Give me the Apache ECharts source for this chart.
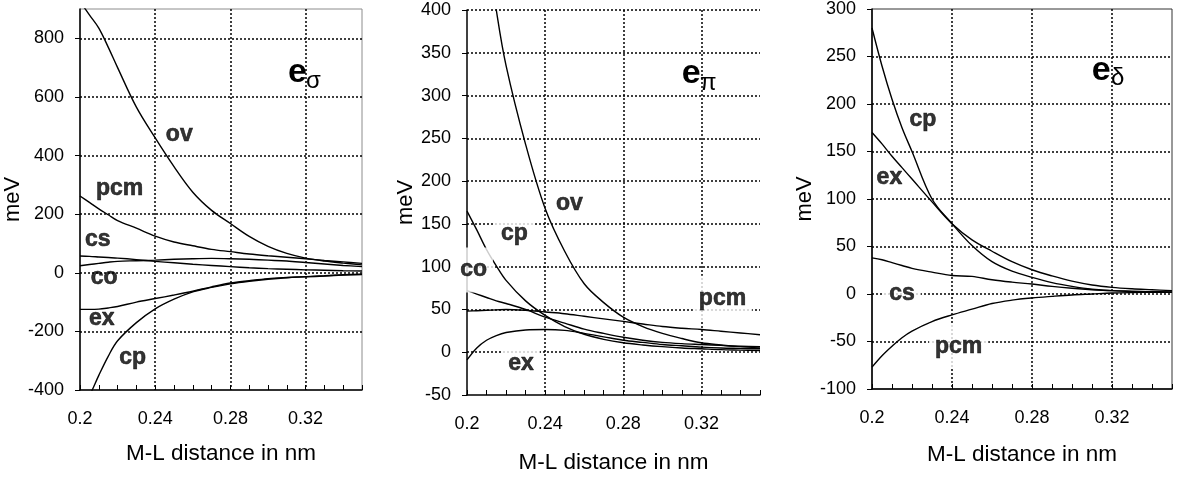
<!DOCTYPE html>
<html><head><meta charset="utf-8">
<script src="https://cdn.jsdelivr.net/npm/echarts@6/dist/echarts.min.js"></script>
<style>html,body{margin:0;padding:0;background:#fff}#c{width:1181px;height:479px}</style>
</head><body><div id="c"></div>
<script>
// ---- data ----
const distance = [0.20,0.205,0.21,0.215,0.22,0.23,0.24,0.25,0.26,0.27,0.28,0.29,0.30,0.31,0.32,0.33,0.34,0.35];
const xTickValues = [0.2,0.24,0.28,0.32];
const xTickLabels = ['0.2','0.24','0.28','0.32'];

// e sigma
const sigmaOv  = [925,880,835,770,700,565,460,362,275,213,168,124,90,66,50,40,33,27];
const sigmaPcm = [262,240,218,198,178,152,125,105,92,80,72,64,58,53,48,42,37,32];
const sigmaCs  = [57,56,54,52,50,45,39,34,29,25,21,17,14,12,10,8.5,7,6];
const sigmaCo  = [24,28,32,36,39,41,43,46,48,49,48,46,43,40,35,30,25,21];
const sigmaEx  = [-125,-125,-124,-120,-115,-100,-88,-76,-63,-48,-35,-27,-20,-16,-13,-10,-7,-5];
const sigmaCp  = [-475,-420,-350,-285,-232,-170,-123,-90,-65,-50,-38,-29,-22,-17,-14,-11,-8,-6];
const sigmaYTicks = [-400,-200,0,200,400,600,800];
const sigmaLabelNames = ['ov','pcm','cs','co','ex','cp'];
const sigmaLabelX = [0.2528,0.2211,0.2094,0.2128,0.2116,0.228];
const sigmaLabelY = [470,286,113,-18,-157,-288];

// e pi
const piOv  = [640,560,480,400,335,243,168,118,80,58,41,30,22,16,11,8.5,6.5,5];
const piCp  = [165,143,120,101,84,60,43,30,21,15,11,8.5,6.5,5,4,3,2.5,2];
const piCo  = [72,68,64,60,57,50,41,34,27,22,17.5,14,11.5,10,9,8,7,6.5];
const piPcm = [48,48.5,49,49.5,50,49,47,45,42,39,36,33,30,28,26.5,24.5,22.5,20.5];
const piEx  = [-9,5,14,19.5,23,26,26.5,25.5,22,18,14,11.5,9,7.5,6,5,4.5,4];
const piYTicks = [-50,0,50,100,150,200,250,300,350,400];
const piLabelNames = ['ov','cp','co','pcm','ex'];
const piLabelX = [0.2524,0.2243,0.2034,0.3308,0.2277];
const piLabelY = [174,138,96,63,-13];

// e delta
const deltaCp  = [280,240,205,175,150,100,74,51,34,24,17.5,12,8,5,3.5,2.5,2,2];
const deltaEx  = [170,158,145,133,121,97,74,57,45,34,25.5,19,13.5,9.5,7,5.5,4.5,3.5];
const deltaCs  = [38,36,33,30,27,23,19.5,18.5,15,12.5,10.5,8,6,4.5,3.5,3,2.5,2];
const deltaPcm = [-77,-65,-55,-46,-39,-29,-22,-16,-10,-6.5,-4.2,-2.5,-1,0,1,1.5,1.8,2];
const deltaYTicks = [-100,-50,0,50,100,150,200,250,300];
const deltaLabelNames = ['cp','ex','cs','pcm'];
const deltaLabelX = [0.2254,0.2087,0.215,0.2433];
const deltaLabelY = [183,122,0,-55];

// ---- layout / style ----
const FONT = "'Liberation Sans', Arial, sans-serif";
const panels = [
  {grid:{left:80,top:9,width:282,height:381}, border:'#8c8c8c', min:-400, max:900, interval:200, ticks:sigmaYTicks,
   topGrid:false, yGap:52, xGap:52, series:[sigmaOv,sigmaPcm,sigmaCs,sigmaCo,sigmaEx,sigmaCp],
   ln:sigmaLabelNames, lx:sigmaLabelX, ly:sigmaLabelY, boxed:[],
   title:{e:[288,72.6], s:[306,81.7], sub:'\u03c3'}},
  {grid:{left:467,top:10,width:293,height:385}, border:null, min:-50, max:400, interval:50, ticks:piYTicks,
   topGrid:true, yGap:47, xGap:56, series:[piOv,piCp,piCo,piPcm,piEx],
   ln:piLabelNames, lx:piLabelX, ly:piLabelY, boxed:['cp','co','pcm','ex'],
   title:{e:[681.7,73.6], s:[700,83.7], sub:'\u03c0'}},
  {grid:{left:872,top:6,width:300,height:383}, border:'#333', min:-100, max:300, interval:50, ticks:deltaYTicks,
   topGrid:false, yGap:55, xGap:54, series:[deltaCp,deltaEx,deltaCs,deltaPcm],
   ln:deltaLabelNames, lx:deltaLabelX, ly:deltaLabelY, boxed:['cs','pcm'],
   title:{e:[1091.7,70.6], s:[1111,78.7], sub:'\u03b4'}}
];

const dotted = {color:'#000', width:1.5, type:[2,2]};
const grids = [], xAxes = [], yAxes = [], series = [], graphics = [];

panels.forEach((p, gi) => {
  grids.push(Object.assign({show: !!p.border, borderColor: p.border || 'transparent', borderWidth: 1, backgroundColor:'transparent'}, p.grid));
  xAxes.push({type:'value', gridIndex:gi, position:'bottom', min:0.2, max:0.35, interval:0.04,
    axisLine:{onZero:false, lineStyle:{color:'#000', width:1.5}},
    axisTick:{show:false},
    axisLabel:{color:'#000', fontSize:18, fontFamily:FONT, margin:20, showMaxLabel:false,
      formatter: v => { const i = xTickValues.findIndex(t => Math.abs(t - v) < 1e-6); return i >= 0 ? xTickLabels[i] : ''; }},
    splitLine:{show:true, showMinLine:false, showMaxLine:false, lineStyle:dotted},
    name:'M-L distance in nm', nameLocation:'middle', nameGap:p.xGap,
    nameTextStyle:{color:'#000', fontSize:22.5, fontFamily:FONT}});
  xAxes.push({type:'value', gridIndex:gi, position:'bottom', min:0.2, max:0.35, interval:0.01,
    axisLine:{show:false, onZero:false},
    axisTick:{show:true, inside:true, length:5, lineStyle:{color:'#000', width:1}},
    axisLabel:{show:false}, splitLine:{show:false}});
  yAxes.push({type:'value', gridIndex:gi, position:'left', min:p.min, max:p.max, interval:p.interval,
    axisLine:{show:true, onZero:false, lineStyle:{color:'#000', width:1.5}},
    axisTick:{show:true, inside:false, length:5, lineStyle:{color:'#000', width:1}},
    axisLabel:{color:'#000', fontSize:18, fontFamily:FONT, margin:16, showMaxLabel: p.ticks.includes(p.max),
      formatter: v => p.ticks.includes(v) ? String(v) : ''},
    splitLine:{show:true, showMinLine:false, showMaxLine:p.topGrid, lineStyle:dotted},
    name:'meV', nameLocation:'middle', nameGap:p.yGap,
    nameTextStyle:{color:'#000', fontSize:22, fontFamily:FONT}});
  p.series.forEach(vals => {
    series.push({type:'line', xAxisIndex:2*gi, yAxisIndex:gi, symbol:'none', smooth:0.35,
      clip:true, silent:true, z:3, lineStyle:{color:'#000', width:1.4},
      data: distance.map((x, i) => [x, vals[i]])});
  });
  series.push({type:'scatter', xAxisIndex:2*gi, yAxisIndex:gi, symbolSize:0, silent:true, z:10,
    itemStyle:{color:'#000'},
    label:{show:true, position:'inside', formatter:'{b}', color:'#000', fontSize:23, fontWeight:'bold', fontFamily:FONT,
      textBorderWidth:0.6, textBorderColor:'#000', textShadowBlur:0},
    data: p.ln.map((n, i) => ({name:n, value:[p.lx[i], p.ly[i]],
      label: p.boxed.includes(n) ? {backgroundColor:'#fff', padding:[11,6,11,6]} : {}}))});
  graphics.push({type:'text', x:p.title.e[0], y:p.title.e[1], z:20,
    style:{text:'e', fill:'#000', font:"bold 34px 'Liberation Sans', Arial, sans-serif", align:'left', verticalAlign:'middle'}});
  graphics.push({type:'text', x:p.title.s[0], y:p.title.s[1], z:20,
    style:{text:p.title.sub, fill:'#000', font:"24px 'Liberation Sans', Arial, sans-serif", align:'left', verticalAlign:'middle'}});
});

const chart = echarts.init(document.getElementById('c'), null, {renderer:'canvas'});
chart.setOption({
  backgroundColor:'#fff', animation:false,
  grid:grids, xAxis:xAxes, yAxis:yAxes, series:series, graphic:graphics
});
</script></body></html>
